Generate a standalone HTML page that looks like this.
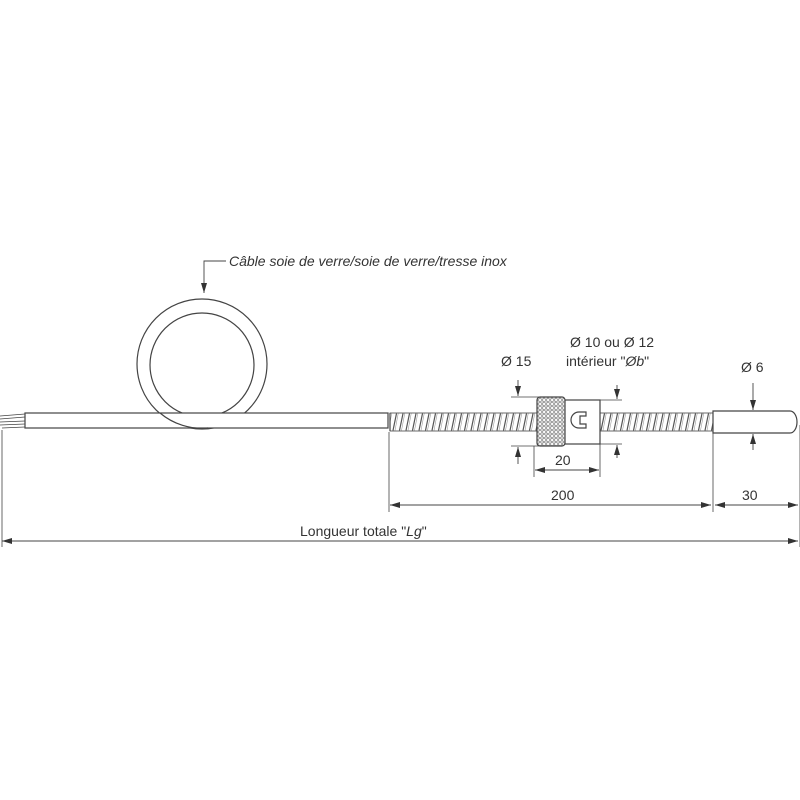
<!DOCTYPE html>
<html><head><style>body{margin:0;background:#fff}svg{display:block}text{font-family:"Liberation Sans",sans-serif;fill:#333}</style></head>
<body>
<svg width="800" height="800" viewBox="0 0 800 800" xmlns="http://www.w3.org/2000/svg">
<defs>
<marker id="a" viewBox="0 0 10 6" refX="10" refY="3" markerWidth="10" markerHeight="6" orient="auto-start-reverse" markerUnits="userSpaceOnUse"><path d="M0,0L10,3L0,6z" fill="#333"/></marker>
<pattern id="k" width="4" height="4" patternUnits="userSpaceOnUse"><rect width="4" height="4" fill="#fff"/><circle cx="2" cy="2" r="1.3" fill="none" stroke="#555" stroke-width="0.7"/></pattern>
<pattern id="s" width="6.5" height="18" patternUnits="userSpaceOnUse" x="392" y="413"><rect width="6.5" height="18" fill="#fff"/><path d="M1,17.5L4.5,0.5" stroke="#555" stroke-width="1.2"/><path d="M3,17.5L6.2,0.5" stroke="#999" stroke-width="0.6"/></pattern>
</defs>
<g stroke="#444" fill="none" stroke-width="1.2">
<circle cx="202" cy="364" r="65"/>
<circle cx="202" cy="365" r="52"/>
<rect x="25" y="413" width="363" height="15" fill="#fff"/>
<path d="M160,413 A65,65 0 0 0 208,428" />
<path d="M0,416L25,414M0,419L25,417M0,422L25,421M0,425L25,424M2,428L25,427" stroke-width="0.7"/>
<rect x="390" y="413" width="147" height="18" fill="url(#s)" stroke-width="0.8"/>
<rect x="600" y="413" width="113" height="18" fill="url(#s)" stroke-width="0.8"/>
<path d="M390,413V431"/>
<rect x="537" y="397" width="28" height="49" rx="3" fill="url(#k)"/>
<rect x="565" y="400" width="35" height="44" fill="#fff"/>
<path d="M586,412h-7a4,4 0 0 0 0,16h7v-4h-6v-8h6z" fill="#fff"/>
<path d="M713,411H790a7,11 0 0 1 0,22H713z" fill="#fff"/>
<g stroke-width="0.8">
<path d="M389,432V512M713,433V512M800,425V547M2,430V547"/>
<path d="M511,397H540M511,446H540M565,400H622M565,444H622M534,446V477M600,444V477"/>
</g>
<g stroke-width="0.9">
<path d="M390,505H711" marker-start="url(#a)" marker-end="url(#a)"/>
<path d="M715,505H798" marker-start="url(#a)" marker-end="url(#a)"/>
<path d="M2,541H798" marker-start="url(#a)" marker-end="url(#a)"/>
<path d="M535,470H599" marker-start="url(#a)" marker-end="url(#a)"/>
<path d="M518,380V396" marker-end="url(#a)"/>
<path d="M518,464V447" marker-end="url(#a)"/>
<path d="M617,385V399" marker-end="url(#a)"/>
<path d="M617,458V445" marker-end="url(#a)"/>
<path d="M753,383V410" marker-end="url(#a)"/>
<path d="M753,450V434" marker-end="url(#a)"/>
<path d="M226,261H204V293" marker-end="url(#a)"/>
</g>
</g>
<text x="229" y="266" font-size="14" font-style="italic">Câble soie de verre/soie de verre/tresse inox</text>
<text x="501" y="366" font-size="14">Ø 15</text>
<text x="570" y="347" font-size="14">Ø 10 ou Ø 12</text>
<text x="566" y="366" font-size="14">intérieur "<tspan font-style="italic">Øb</tspan>"</text>
<text x="741" y="372" font-size="14">Ø 6</text>
<text x="555" y="465" font-size="14">20</text>
<text x="551" y="500" font-size="14">200</text>
<text x="742" y="500" font-size="14">30</text>
<text x="300" y="536" font-size="14">Longueur totale "<tspan font-style="italic">Lg</tspan>"</text>
</svg>
</body></html>
